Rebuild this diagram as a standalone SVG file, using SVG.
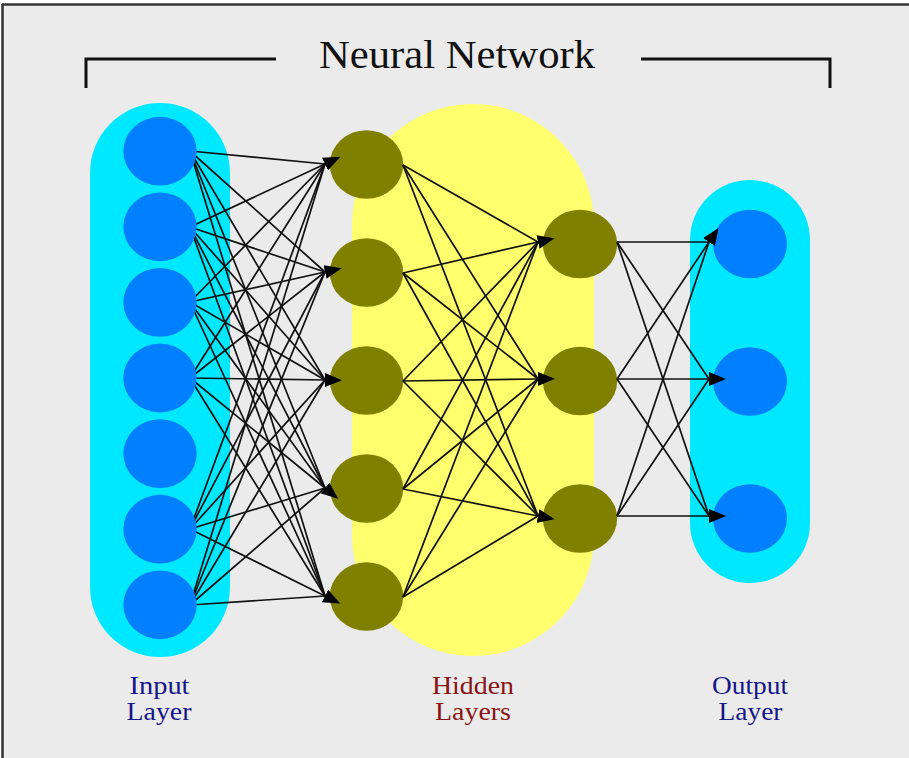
<svg xmlns="http://www.w3.org/2000/svg" width="909" height="758" viewBox="0 0 909 758">
  <style>
    .edge { stroke: #111; stroke-width: 1.7; fill: none; }
    .arr { marker-end: url(#arrow); }
    .in-node { fill: #0080FF; }
    .hid-node { fill: #808000; }
    .out-node { fill: #0080FF; }
    .title { font-family: "Liberation Serif", "Times New Roman", serif; font-size: 40px; fill: #111; }
    .label { font-family: "Liberation Serif", "Times New Roman", serif; font-size: 25px; text-anchor: middle; }
    .blue { fill: #16168a; }
    .red { fill: #8a1414; }
    .bracket { stroke: #111; stroke-width: 3; fill: none; }
  </style>
  <defs>
    <marker id="arrow" viewBox="0 0 17 14" refX="0" refY="7" markerWidth="17" markerHeight="14" markerUnits="userSpaceOnUse" orient="auto">
      <path d="M0,0 L17,7 L0,14 z" fill="#000"/>
    </marker>
  </defs>

  <!-- page and frame -->
  <rect x="0" y="0" width="909" height="758" fill="#ffffff"/>
  <rect x="3" y="5" width="906" height="753" fill="#EBEBEB"/>
  <line x1="2" y1="4.5" x2="909" y2="4.5" stroke="#333" stroke-width="2.5"/>
  <line x1="2.5" y1="4" x2="2.5" y2="758" stroke="#333" stroke-width="2.5"/>

  <!-- heading with bracket -->
  <g id="title">
    <polyline class="bracket" points="86,88 86,59 276,59"/>
    <polyline class="bracket" points="641,59 830,59 830,88"/>
    <text class="title" x="319" y="68" textLength="276" lengthAdjust="spacingAndGlyphs">Neural Network</text>
  </g>

  <!-- layer backgrounds -->
  <rect id="input-band" x="90" y="103" width="140" height="554" rx="70" ry="70" fill="#00E8FF"/>
  <rect id="hidden-band" x="352" y="104" width="242" height="552" rx="121" ry="121" fill="#FFFF6E"/>
  <rect id="output-band" x="690" y="180" width="120" height="403" rx="60" ry="60" fill="#00E8FF"/>

  <!-- first hidden layer -->
  <g id="h1-1"><ellipse class="hid-node" cx="366.5" cy="164.5" rx="36.7" ry="34.3"/></g>
  <g id="h1-2"><ellipse class="hid-node" cx="366.5" cy="272.5" rx="36.7" ry="34.3"/></g>
  <g id="h1-3"><ellipse class="hid-node" cx="366.5" cy="380.5" rx="36.7" ry="34.3"/></g>
  <g id="h1-4"><ellipse class="hid-node" cx="366.5" cy="488.5" rx="36.7" ry="34.3"/></g>
  <g id="h1-5"><ellipse class="hid-node" cx="366.5" cy="596.5" rx="36.7" ry="34.3"/></g>

  <!-- second hidden layer -->
  <g id="h2-1"><ellipse class="hid-node" cx="580" cy="244" rx="37.2" ry="34.3"/></g>
  <g id="h2-2"><ellipse class="hid-node" cx="580" cy="381" rx="37.2" ry="34.3"/></g>
  <g id="h2-3"><ellipse class="hid-node" cx="580" cy="518.5" rx="37.2" ry="34.3"/></g>

  <!-- output layer -->
  <g id="out-1"><ellipse class="out-node" cx="750" cy="244" rx="37" ry="34.3"/></g>
  <g id="out-2"><ellipse class="out-node" cx="750" cy="381.5" rx="37" ry="34.3"/></g>
  <g id="out-3"><ellipse class="out-node" cx="750" cy="518.5" rx="37" ry="34.3"/></g>

  <!-- connections -->
  <g id="connectors">
    <!-- input -> hidden 1 -->
    <line class="edge" x1="190" y1="151" x2="325" y2="164"/>
    <line class="edge" x1="190" y1="151" x2="325" y2="272"/>
    <line class="edge" x1="190" y1="151" x2="325" y2="380"/>
    <line class="edge" x1="190" y1="151" x2="325" y2="488"/>
    <line class="edge" x1="190" y1="151" x2="325" y2="596"/>

    <line class="edge arr" x1="190" y1="227" x2="325" y2="164"/>
    <line class="edge" x1="190" y1="227" x2="325" y2="272"/>
    <line class="edge" x1="190" y1="227" x2="325" y2="380"/>
    <line class="edge" x1="190" y1="227" x2="325" y2="488"/>
    <line class="edge" x1="190" y1="227" x2="325" y2="596"/>

    <line class="edge" x1="190" y1="302" x2="325" y2="164"/>
    <line class="edge arr" x1="190" y1="302" x2="325" y2="272"/>
    <line class="edge" x1="190" y1="302" x2="325" y2="380"/>
    <line class="edge" x1="190" y1="302" x2="325" y2="488"/>
    <line class="edge" x1="190" y1="302" x2="325" y2="596"/>

    <line class="edge" x1="190" y1="378" x2="325" y2="164"/>
    <line class="edge" x1="190" y1="378" x2="325" y2="272"/>
    <line class="edge arr" x1="190" y1="378" x2="325" y2="380"/>
    <line class="edge arr" x1="190" y1="378" x2="325" y2="488"/>
    <line class="edge" x1="190" y1="378" x2="325" y2="596"/>

    <line class="edge" x1="190" y1="529" x2="325" y2="164"/>
    <line class="edge" x1="190" y1="529" x2="325" y2="272"/>
    <line class="edge" x1="190" y1="529" x2="325" y2="380"/>
    <line class="edge" x1="190" y1="529" x2="325" y2="488"/>
    <line class="edge arr" x1="190" y1="529" x2="325" y2="596"/>

    <line class="edge" x1="190" y1="605" x2="325" y2="164"/>
    <line class="edge" x1="190" y1="605" x2="325" y2="272"/>
    <line class="edge" x1="190" y1="605" x2="325" y2="380"/>
    <line class="edge" x1="190" y1="605" x2="325" y2="488"/>
    <line class="edge" x1="190" y1="605" x2="325" y2="596"/>

    <!-- hidden 1 -> hidden 2 -->
    <line class="edge" x1="403" y1="165" x2="538" y2="242"/>
    <line class="edge" x1="403" y1="165" x2="538" y2="379"/>
    <line class="edge" x1="403" y1="165" x2="538" y2="516"/>
    <line class="edge arr" x1="403" y1="273" x2="538" y2="242"/>
    <line class="edge" x1="403" y1="273" x2="538" y2="379"/>
    <line class="edge" x1="403" y1="273" x2="538" y2="516"/>
    <line class="edge" x1="403" y1="381" x2="538" y2="242"/>
    <line class="edge arr" x1="403" y1="381" x2="538" y2="379"/>
    <line class="edge" x1="403" y1="381" x2="538" y2="516"/>
    <line class="edge" x1="403" y1="489" x2="538" y2="242"/>
    <line class="edge" x1="403" y1="489" x2="538" y2="379"/>
    <line class="edge arr" x1="403" y1="489" x2="538" y2="516"/>
    <line class="edge" x1="403" y1="597" x2="538" y2="242"/>
    <line class="edge" x1="403" y1="597" x2="538" y2="379"/>
    <line class="edge" x1="403" y1="597" x2="538" y2="516"/>

    <!-- hidden 2 -> output -->
    <line class="edge" x1="617" y1="242" x2="709" y2="242"/>
    <line class="edge" x1="617" y1="242" x2="709" y2="379"/>
    <line class="edge" x1="617" y1="242" x2="709" y2="516"/>
    <line class="edge arr" x1="617" y1="379" x2="709" y2="242"/>
    <line class="edge arr" x1="617" y1="379" x2="709" y2="379"/>
    <line class="edge" x1="617" y1="379" x2="709" y2="516"/>
    <line class="edge" x1="617" y1="516" x2="709" y2="242"/>
    <line class="edge" x1="617" y1="516" x2="709" y2="379"/>
    <line class="edge arr" x1="617" y1="516" x2="709" y2="516"/>
  </g>

  <!-- input layer -->
  <g id="in-1"><ellipse class="in-node" cx="160" cy="151.2" rx="36.7" ry="34.4"/></g>
  <g id="in-2"><ellipse class="in-node" cx="160" cy="226.8" rx="36.7" ry="34.4"/></g>
  <g id="in-3"><ellipse class="in-node" cx="160" cy="302.4" rx="36.7" ry="34.4"/></g>
  <g id="in-4"><ellipse class="in-node" cx="160" cy="378" rx="36.7" ry="34.4"/></g>
  <g id="in-5"><ellipse class="in-node" cx="160" cy="453.6" rx="36.7" ry="34.4"/></g>
  <g id="in-6"><ellipse class="in-node" cx="160" cy="529.2" rx="36.7" ry="34.4"/></g>
  <g id="in-7"><ellipse class="in-node" cx="160" cy="604.8" rx="36.7" ry="34.4"/></g>

  <!-- layer captions -->
  <g id="caption-input">
    <text class="label blue" x="159.5" y="694" textLength="60" lengthAdjust="spacingAndGlyphs">Input</text>
    <text class="label blue" x="159" y="720" textLength="65" lengthAdjust="spacingAndGlyphs">Layer</text>
  </g>
  <g id="caption-hidden">
    <text class="label red" x="473" y="694" textLength="82" lengthAdjust="spacingAndGlyphs">Hidden</text>
    <text class="label red" x="473" y="720" textLength="76" lengthAdjust="spacingAndGlyphs">Layers</text>
  </g>
  <g id="caption-output">
    <text class="label blue" x="750" y="694" textLength="76" lengthAdjust="spacingAndGlyphs">Output</text>
    <text class="label blue" x="750.5" y="720" textLength="64" lengthAdjust="spacingAndGlyphs">Layer</text>
  </g>
</svg>
